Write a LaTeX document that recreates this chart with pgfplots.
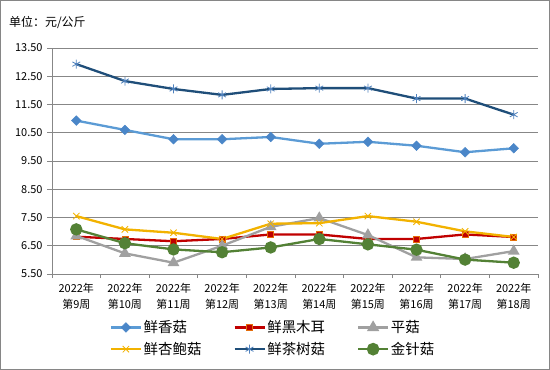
\documentclass[border=0pt]{standalone}
\usepackage{fontspec}
\setmainfont{Noto Sans CJK SC}
\usepackage{pgfplots}
\pgfplotsset{compat=1.18}
\definecolor{framegray}{HTML}{868686}
\definecolor{gridgray}{HTML}{878787}
\definecolor{cXG}{HTML}{5B9BD5}
\definecolor{cXGm}{HTML}{4A86C8}
\definecolor{cHM}{HTML}{C00000}
\definecolor{cHMb}{HTML}{E46C0A}
\definecolor{cPG}{HTML}{A0A0A0}
\definecolor{cXB}{HTML}{F2B200}
\definecolor{cCS}{HTML}{1F4E79}
\definecolor{cCSm}{HTML}{4F81BD}
\definecolor{cJZ}{HTML}{538135}
\begin{document}
\begin{tikzpicture}
\path[use as bounding box] (0bp,0bp) rectangle (550bp,370bp);
\draw[framegray, line width=1bp] (0.5bp,0.5bp) rectangle (549.5bp,369.5bp);
\node[anchor=west, inner sep=0pt, font=\fontsize{12}{14}\selectfont] at (9bp,347bp) {单位：元/公斤};
\begin{axis}[
  at={(52bp,96bp)}, anchor=south west,
  scale only axis, width=486bp, height=226bp,
  xmin=-0.5, xmax=9.5, ymin=5.5, ymax=13.5,
  axis x line*=bottom, axis y line*=left,
  axis line style={gridgray, line width=0.8bp},
  ytick={5.5,6.5,7.5,8.5,9.5,10.5,11.5,12.5,13.5},
  ymajorgrids, major grid style={gridgray, line width=0.8bp},
  yticklabel style={/pgf/number format/fixed, /pgf/number format/fixed zerofill, /pgf/number format/precision=2, /pgf/number format/assume math mode=true, xshift=-1bp},
  ticklabel style={font=\fontsize{11}{13}\selectfont},
  tick style={gridgray, line width=0.8bp},
  major tick length=5bp,
  tick align=outside,
  xtick={0,...,9}, major x tick style={draw=none},
  minor xtick={-0.5,0.5,...,9.5}, minor tick length=4bp,
  minor x tick style={gridgray, line width=0.8bp},
  xticklabels={{2022年\\第9周},{2022年\\第10周},{2022年\\第11周},{2022年\\第12周},{2022年\\第13周},{2022年\\第14周},{2022年\\第15周},{2022年\\第16周},{2022年\\第17周},{2022年\\第18周}},
  x tick label style={align=center, font=\fontsize{11}{15.5}\selectfont, yshift=-1bp},
  legend columns=3,
  legend style={at={(0.112,-0.19)}, anchor=north west, draw=none, fill=none,
    font=\fontsize{14.5}{16}\selectfont, column sep=0bp,
    nodes={inner sep=1.5bp}, row sep=5bp},
  legend image code/.code={\draw[mark repeat=2, mark phase=2, line width=2.6bp] plot coordinates {(0bp,0bp) (15bp,0bp) (30bp,0bp)};},
  clip=false,
]
\addplot[cXG, line width=2.3bp, mark=square*, mark size=3.4bp, mark options={fill=cXGm, draw=cXGm, line width=0.5bp, rotate=45}]
 coordinates {(0,10.93)(1,10.60)(2,10.27)(3,10.27)(4,10.35)(5,10.11)(6,10.18)(7,10.04)(8,9.81)(9,9.95)};
\addlegendentry{\makebox[88bp][l]{鲜香菇}}
\addplot[cHM, line width=2.3bp, mark=square*, mark size=3bp, mark options={fill=cHM, draw=cHMb, line width=0.8bp}]
 coordinates {(0,6.82)(1,6.74)(2,6.66)(3,6.74)(4,6.90)(5,6.90)(6,6.74)(7,6.74)(8,6.90)(9,6.81)};
\addlegendentry{\makebox[88bp][l]{鲜黑木耳}}
\addplot[cPG, line width=2.3bp, mark=triangle*, mark size=4.5bp, mark options={fill=cPG, draw=cPG}]
 coordinates {(0,6.85)(1,6.23)(2,5.90)(3,6.50)(4,7.17)(5,7.48)(6,6.88)(7,6.09)(8,6.03)(9,6.31)};
\addlegendentry{\makebox[88bp][l]{平菇}}
\addplot[cXB, line width=2.3bp, mark=x, mark size=4.5bp, mark options={draw=cXB, line width=0.8bp}]
 coordinates {(0,7.55)(1,7.08)(2,6.96)(3,6.74)(4,7.28)(5,7.30)(6,7.55)(7,7.35)(8,7.01)(9,6.81)};
\addlegendentry{\makebox[88bp][l]{鲜杏鲍菇}}
\addplot[cCS, line width=2.3bp, mark=asterisk, mark size=4.5bp, mark options={draw=cCSm, line width=0.8bp}]
 coordinates {(0,12.93)(1,12.33)(2,12.05)(3,11.84)(4,12.05)(5,12.08)(6,12.08)(7,11.71)(8,11.71)(9,11.14)};
\addlegendentry{\makebox[88bp][l]{鲜茶树菇}}
\addplot[cJZ, line width=2.3bp, mark=*, mark size=5bp, mark options={fill=cJZ, draw=cJZ}]
 coordinates {(0,7.08)(1,6.59)(2,6.37)(3,6.27)(4,6.44)(5,6.74)(6,6.55)(7,6.36)(8,6.01)(9,5.90)};
\addlegendentry{\makebox[88bp][l]{金针菇}}
\end{axis}
\end{tikzpicture}
\end{document}
